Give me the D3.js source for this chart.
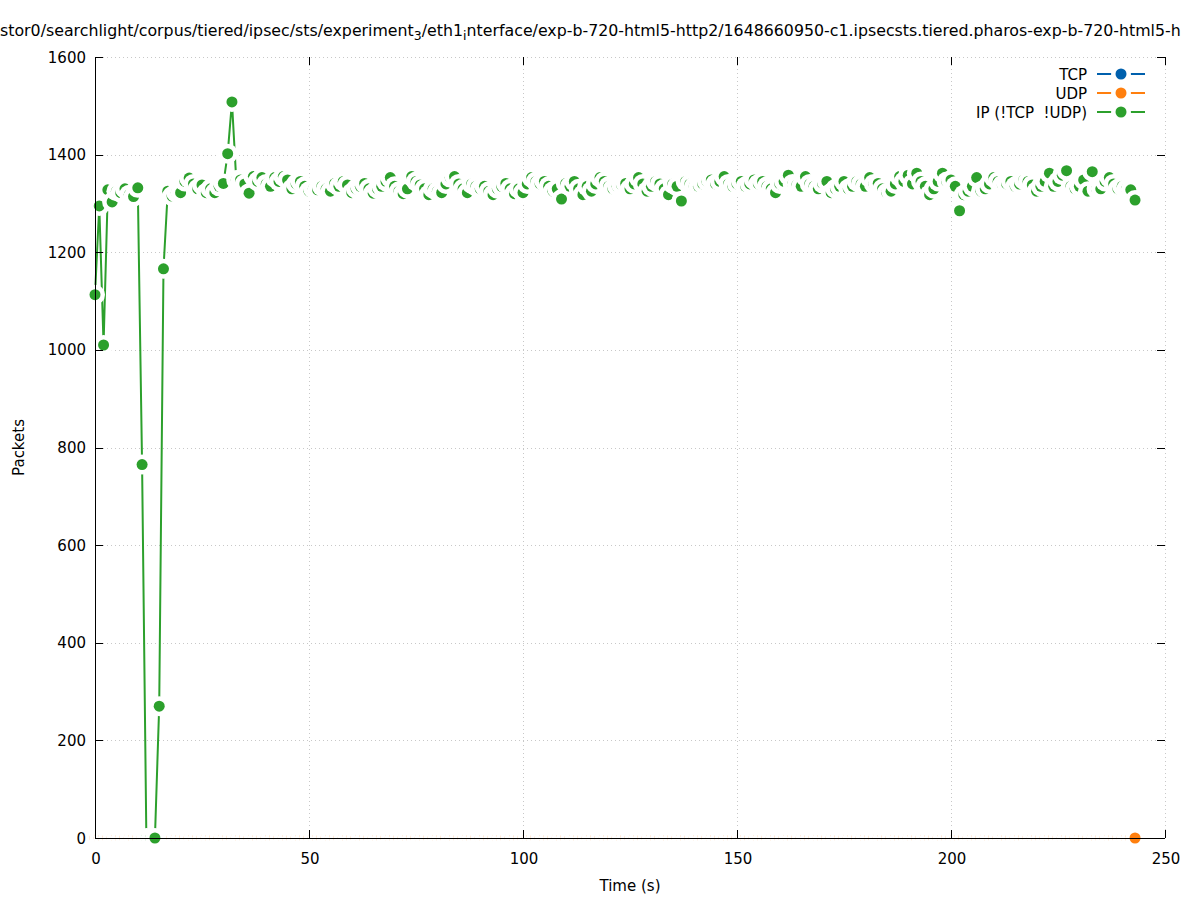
<!DOCTYPE html>
<html><head><meta charset="utf-8">
<script src="https://cdn.jsdelivr.net/npm/d3@7"></script>
<style>
body{margin:0;background:#fff}
svg{display:block}
text{font-family:"DejaVu Sans",sans-serif;font-size:15px;fill:#000}
</style>
</head><body>
<svg id="chart" width="1197" height="900"></svg>
<script>
const chartTitle = ["stor0/searchlight/corpus/tiered/ipsec/sts/experiment", "3", "/eth1", "i", "nterface/exp-b-720-html5-http2/1648660950-c1.ipsecsts.tiered.pharos-exp-b-720-html5-h"];
const xLabel = "Time (s)";
const yLabel = "Packets";
const seriesNames = ["TCP", "UDP", "IP (!TCP  !UDP)"];
const seriesColors = ["#0060ad", "#ff7f0e", "#2ca02c"];
const xTicks = [0, 50, 100, 150, 200, 250];
const yTicks = [0, 200, 400, 600, 800, 1000, 1200, 1400, 1600];

const times = [
0,1,2,3,4,5,6,7,8,9,10,11,12,13,14,15,16,17,18,19,20,21,22,23,24,25,26,27,28,29,
30,31,32,33,34,35,36,37,38,39,40,41,42,43,44,45,46,47,48,49,50,51,52,53,54,55,56,57,58,59,
60,61,62,63,64,65,66,67,68,69,70,71,72,73,74,75,76,77,78,79,80,81,82,83,84,85,86,87,88,89,
90,91,92,93,94,95,96,97,98,99,100,101,102,103,104,105,106,107,108,109,110,111,112,113,114,115,116,117,118,119,
120,121,122,123,124,125,126,127,128,129,130,131,132,133,134,135,136,137,138,139,140,141,142,143,144,145,146,147,148,149,
150,151,152,153,154,155,156,157,158,159,160,161,162,163,164,165,166,167,168,169,170,171,172,173,174,175,176,177,178,179,
180,181,182,183,184,185,186,187,188,189,190,191,192,193,194,195,196,197,198,199,200,201,202,203,204,205,206,207,208,209,
210,211,212,213,214,215,216,217,218,219,220,221,222,223,224,225,226,227,228,229,230,231,232,233,234,235,236,237,238,239,
240,241,242,243];

const tcpPackets = [
0,0,0,0,0,0,0,0,0,0,0,0,0,0,0,0,0,0,0,0,0,0,0,0,0,0,0,0,0,0,
0,0,0,0,0,0,0,0,0,0,0,0,0,0,0,0,0,0,0,0,0,0,0,0,0,0,0,0,0,0,
0,0,0,0,0,0,0,0,0,0,0,0,0,0,0,0,0,0,0,0,0,0,0,0,0,0,0,0,0,0,
0,0,0,0,0,0,0,0,0,0,0,0,0,0,0,0,0,0,0,0,0,0,0,0,0,0,0,0,0,0,
0,0,0,0,0,0,0,0,0,0,0,0,0,0,0,0,0,0,0,0,0,0,0,0,0,0,0,0,0,0,
0,0,0,0,0,0,0,0,0,0,0,0,0,0,0,0,0,0,0,0,0,0,0,0,0,0,0,0,0,0,
0,0,0,0,0,0,0,0,0,0,0,0,0,0,0,0,0,0,0,0,0,0,0,0,0,0,0,0,0,0,
0,0,0,0,0,0,0,0,0,0,0,0,0,0,0,0,0,0,0,0,0,0,0,0,0,0,0,0,0,0,
0,0,0,0];

const udpPackets = [
0,0,0,0,0,0,0,0,0,0,0,0,0,0,0,0,0,0,0,0,0,0,0,0,0,0,0,0,0,0,
0,0,0,0,0,0,0,0,0,0,0,0,0,0,0,0,0,0,0,0,0,0,0,0,0,0,0,0,0,0,
0,0,0,0,0,0,0,0,0,0,0,0,0,0,0,0,0,0,0,0,0,0,0,0,0,0,0,0,0,0,
0,0,0,0,0,0,0,0,0,0,0,0,0,0,0,0,0,0,0,0,0,0,0,0,0,0,0,0,0,0,
0,0,0,0,0,0,0,0,0,0,0,0,0,0,0,0,0,0,0,0,0,0,0,0,0,0,0,0,0,0,
0,0,0,0,0,0,0,0,0,0,0,0,0,0,0,0,0,0,0,0,0,0,0,0,0,0,0,0,0,0,
0,0,0,0,0,0,0,0,0,0,0,0,0,0,0,0,0,0,0,0,0,0,0,0,0,0,0,0,0,0,
0,0,0,0,0,0,0,0,0,0,0,0,0,0,0,0,0,0,0,0,0,0,0,0,0,0,0,0,0,0,
0,0,0,0];

const ipPackets = [
1113,1295,1010,1328,1303,1325,1322,1330,1318,1314,1332,765,0,0,0,270,1166,1325,1315,1322,
1322,1345,1352,1340,1330,1338,1322,1330,1322,1335,1341,1402,1508,1348,1348,1340,1321,1355,1345,1353,
1340,1335,1353,1345,1355,1348,1330,1340,1345,1335,1325,1330,1328,1335,1330,1325,1341,1335,1345,1338,
1322,1330,1335,1341,1330,1321,1330,1335,1345,1353,1335,1325,1320,1330,1355,1345,1338,1330,1318,1330,
1325,1322,1340,1353,1355,1340,1330,1322,1340,1335,1330,1335,1325,1318,1330,1335,1341,1330,1320,1330,
1322,1340,1353,1345,1340,1345,1335,1325,1330,1309,1341,1335,1345,1330,1318,1335,1325,1340,1353,1345,
1335,1330,1335,1338,1341,1330,1340,1353,1340,1325,1335,1345,1340,1330,1318,1340,1335,1305,1345,1340,
1335,1335,1340,1345,1348,1340,1345,1355,1340,1335,1340,1345,1335,1340,1348,1340,1345,1335,1330,1322,
1340,1345,1358,1340,1338,1335,1355,1340,1335,1330,1341,1345,1322,1330,1335,1345,1330,1335,1345,1340,
1335,1353,1340,1341,1330,1322,1325,1340,1355,1345,1358,1340,1362,1345,1335,1318,1330,1345,1362,1345,
1348,1335,1285,1318,1325,1335,1353,1325,1330,1340,1353,1345,1338,1340,1345,1335,1340,1348,1345,1338,
1325,1335,1345,1362,1335,1345,1358,1367,1335,1330,1335,1348,1325,1365,1330,1330,1345,1353,1340,1330,
1335,1330,1328,1307];

const seriesValues = [tcpPackets, udpPackets, ipPackets];

const W = 1197, H = 900;
const margin = {left: 95, right: 32, top: 57, bottom: 62};
const x = d3.scaleLinear().domain([0, 250]).range([margin.left, W - margin.right]);
const y = d3.scaleLinear().domain([0, 1600]).range([H - margin.bottom, margin.top]);
const svg = d3.select("#chart");
const tickLen = 8;
const rBlank = 10, rDot = 5.5;

// grid
const grid = svg.append("g").attr("stroke", "#c8c8c8").attr("stroke-width", 1).attr("stroke-dasharray", "1,3");
grid.selectAll("line.gy").data(yTicks.filter(d => d > 0)).join("line")
  .attr("x1", x(0)).attr("x2", x(250)).attr("y1", d => Math.round(y(d)) + 0.5).attr("y2", d => Math.round(y(d)) + 0.5);
grid.selectAll("line.gx").data(xTicks.filter(d => d > 0)).join("line")
  .attr("y1", y(0)).attr("y2", y(1600)).attr("x1", d => Math.round(x(d)) + 0.5).attr("x2", d => Math.round(x(d)) + 0.5);

// series
const line = d3.line().x(d => x(d[0])).y(d => y(d[1]));
seriesValues.forEach((vals, si) => {
  const pts = times.map((t, i) => [t, vals[i]]);
  const g = svg.append("g");
  g.append("path").datum(pts).attr("d", line).attr("fill", "none")
    .attr("stroke", seriesColors[si]).attr("stroke-width", 2).attr("stroke-linejoin", "round");
  const pg = g.selectAll("g.pt").data(pts).join("g");
  pg.append("circle").attr("cx", d => x(d[0])).attr("cy", d => y(d[1])).attr("r", rBlank).attr("fill", "#fff");
  pg.append("circle").attr("cx", d => x(d[0])).attr("cy", d => y(d[1])).attr("r", rDot).attr("fill", seriesColors[si]);
});

// axes (border left + bottom, mirrored ticks)
const ax = svg.append("g").attr("stroke", "#000").attr("stroke-width", 1);
ax.append("line").attr("x1", x(0) + 0.5).attr("x2", x(0) + 0.5).attr("y1", y(1600)).attr("y2", y(0) + 0.5);
ax.append("line").attr("x1", x(0)).attr("x2", x(250)).attr("y1", Math.round(y(0)) + 0.5).attr("y2", Math.round(y(0)) + 0.5);
yTicks.forEach(v => {
  const yy = Math.round(y(v)) + 0.5;
  ax.append("line").attr("x1", x(0)).attr("x2", x(0) + tickLen).attr("y1", yy).attr("y2", yy);
  ax.append("line").attr("x1", x(250)).attr("x2", x(250) - tickLen).attr("y1", yy).attr("y2", yy);
});
xTicks.forEach(v => {
  const xx = Math.round(x(v)) + 0.5;
  ax.append("line").attr("x1", xx).attr("x2", xx).attr("y1", y(0)).attr("y2", y(0) - tickLen);
  ax.append("line").attr("x1", xx).attr("x2", xx).attr("y1", y(1600)).attr("y2", y(1600) + tickLen);
});

// tick labels
svg.append("g").selectAll("text").data(yTicks).join("text")
  .attr("x", x(0) - 9).attr("y", d => y(d) + 5.5).attr("text-anchor", "end").text(d => d);
svg.append("g").selectAll("text").data(xTicks).join("text")
  .attr("x", d => x(d) + 1).attr("y", y(0) + 26).attr("text-anchor", "middle").text(d => d);

// axis titles
svg.append("text").attr("x", x(125)).attr("y", 891).attr("text-anchor", "middle").text(xLabel);
svg.append("text").attr("transform", `translate(24,${(y(0) + y(1600)) / 2}) rotate(-90)`).attr("text-anchor", "middle").text(yLabel);

// title
const tt = svg.append("text").attr("x", 0).attr("y", 36).attr("text-anchor", "start").style("font-size", "15.8px").style("white-space", "pre");
tt.append("tspan").text(chartTitle[0]);
tt.append("tspan").attr("dy", 4).style("font-size", "12.5px").text(chartTitle[1]);
tt.append("tspan").attr("dy", -4).text(chartTitle[2]);
tt.append("tspan").attr("dy", 4).style("font-size", "12.5px").text(chartTitle[3]);
tt.append("tspan").attr("dy", -4).text(chartTitle[4]);

// legend
const lg = svg.append("g");
seriesNames.forEach((name, i) => {
  const cy = 74 + i * 19;
  lg.append("text").attr("x", 1087).attr("y", cy + 5.5).attr("text-anchor", "end").style("white-space", "pre").text(name);
  lg.append("line").attr("x1", 1097).attr("x2", 1145).attr("y1", cy).attr("y2", cy)
    .attr("stroke", seriesColors[i]).attr("stroke-width", 2);
  lg.append("circle").attr("cx", 1121).attr("cy", cy).attr("r", rBlank).attr("fill", "#fff");
  lg.append("circle").attr("cx", 1121).attr("cy", cy).attr("r", rDot).attr("fill", seriesColors[i]);
});
</script>
</body></html>
